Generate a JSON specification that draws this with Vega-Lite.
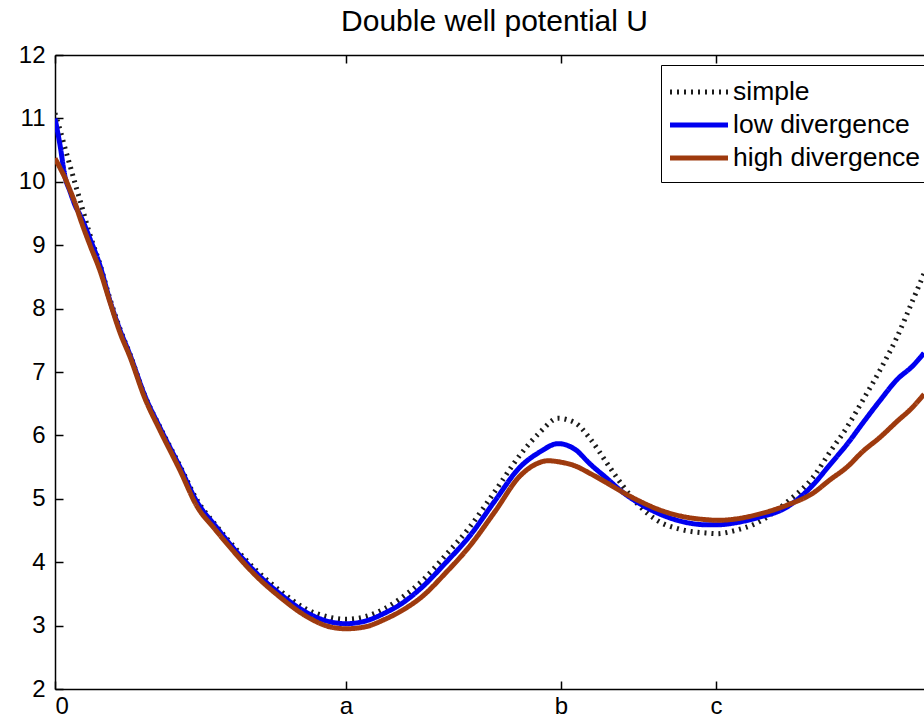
{
  "$schema": "https://vega.github.io/schema/vega-lite/v6.json",
  "autosize": {"type": "none"},
  "width": 869,
  "height": 634,
  "padding": {"left": 55, "top": 55, "right": 0, "bottom": 32},
  "background": "white",
  "title": {"text": "Double well potential U", "fontSize": 30, "fontWeight": "normal", "font": "Liberation Sans", "color": "black", "offset": -5, "dy": 13, "dx": 5, "anchor": "middle", "baseline": "alphabetic"},
  "config": {
    "view": {"stroke": null},
    "font": "Liberation Sans",
    "axis": {"domainColor": "black", "domainWidth": 1.5, "tickColor": "black", "tickWidth": 1.5, "labelColor": "black", "labelFontSize": 24, "labelFont": "Liberation Sans", "grid": false, "title": null}
  },
  "data": {"values": [
    {"x": 0, "series": "simple", "u": 11.08}, {"x": 0.0057, "series": "simple", "u": 10.82}, {"x": 0.0114, "series": "simple", "u": 10.53}, {"x": 0.017, "series": "simple", "u": 10.26}, {"x": 0.0227, "series": "simple", "u": 9.98}, {"x": 0.0284, "series": "simple", "u": 9.71}, {"x": 0.0398, "series": "simple", "u": 9.16}, {"x": 0.0511, "series": "simple", "u": 8.7}, {"x": 0.0625, "series": "simple", "u": 8.15}, {"x": 0.0739, "series": "simple", "u": 7.68}, {"x": 0.0852, "series": "simple", "u": 7.28}, {"x": 0.1023, "series": "simple", "u": 6.62}, {"x": 0.1193, "series": "simple", "u": 6.13}, {"x": 0.142, "series": "simple", "u": 5.52}, {"x": 0.1614, "series": "simple", "u": 4.98}, {"x": 0.1818, "series": "simple", "u": 4.6}, {"x": 0.2011, "series": "simple", "u": 4.28}, {"x": 0.2295, "series": "simple", "u": 3.86}, {"x": 0.2557, "series": "simple", "u": 3.55}, {"x": 0.2841, "series": "simple", "u": 3.27}, {"x": 0.3125, "series": "simple", "u": 3.13}, {"x": 0.3307, "series": "simple", "u": 3.1}, {"x": 0.3523, "series": "simple", "u": 3.14}, {"x": 0.375, "series": "simple", "u": 3.27}, {"x": 0.392, "series": "simple", "u": 3.42}, {"x": 0.4182, "series": "simple", "u": 3.72}, {"x": 0.4432, "series": "simple", "u": 4.1}, {"x": 0.4716, "series": "simple", "u": 4.56}, {"x": 0.5, "series": "simple", "u": 5.12}, {"x": 0.5284, "series": "simple", "u": 5.69}, {"x": 0.5511, "series": "simple", "u": 6.05}, {"x": 0.5716, "series": "simple", "u": 6.27}, {"x": 0.5909, "series": "simple", "u": 6.2}, {"x": 0.608, "series": "simple", "u": 5.95}, {"x": 0.6273, "series": "simple", "u": 5.56}, {"x": 0.6455, "series": "simple", "u": 5.2}, {"x": 0.6648, "series": "simple", "u": 4.88}, {"x": 0.6841, "series": "simple", "u": 4.66}, {"x": 0.7102, "series": "simple", "u": 4.52}, {"x": 0.7409, "series": "simple", "u": 4.46}, {"x": 0.7523, "series": "simple", "u": 4.45}, {"x": 0.7727, "series": "simple", "u": 4.5}, {"x": 0.7977, "series": "simple", "u": 4.62}, {"x": 0.8318, "series": "simple", "u": 4.95}, {"x": 0.8614, "series": "simple", "u": 5.34}, {"x": 0.8807, "series": "simple", "u": 5.74}, {"x": 0.9, "series": "simple", "u": 6.13}, {"x": 0.9182, "series": "simple", "u": 6.56}, {"x": 0.9375, "series": "simple", "u": 7.03}, {"x": 0.9568, "series": "simple", "u": 7.55}, {"x": 0.975, "series": "simple", "u": 8.14}, {"x": 0.9875, "series": "simple", "u": 8.55},

    {"x": 0, "series": "low divergence", "u": 11.0}, {"x": 0.0057, "series": "low divergence", "u": 10.58}, {"x": 0.0114, "series": "low divergence", "u": 10.08}, {"x": 0.017, "series": "low divergence", "u": 9.85}, {"x": 0.0227, "series": "low divergence", "u": 9.63}, {"x": 0.0284, "series": "low divergence", "u": 9.48}, {"x": 0.0398, "series": "low divergence", "u": 9.1}, {"x": 0.0511, "series": "low divergence", "u": 8.68}, {"x": 0.0625, "series": "low divergence", "u": 8.12}, {"x": 0.0739, "series": "low divergence", "u": 7.66}, {"x": 0.0852, "series": "low divergence", "u": 7.27}, {"x": 0.1023, "series": "low divergence", "u": 6.62}, {"x": 0.1193, "series": "low divergence", "u": 6.12}, {"x": 0.142, "series": "low divergence", "u": 5.5}, {"x": 0.1614, "series": "low divergence", "u": 4.95}, {"x": 0.1818, "series": "low divergence", "u": 4.58}, {"x": 0.2011, "series": "low divergence", "u": 4.25}, {"x": 0.2295, "series": "low divergence", "u": 3.82}, {"x": 0.2557, "series": "low divergence", "u": 3.5}, {"x": 0.2841, "series": "low divergence", "u": 3.22}, {"x": 0.3125, "series": "low divergence", "u": 3.06}, {"x": 0.3307, "series": "low divergence", "u": 3.03}, {"x": 0.3523, "series": "low divergence", "u": 3.07}, {"x": 0.375, "series": "low divergence", "u": 3.2}, {"x": 0.392, "series": "low divergence", "u": 3.33}, {"x": 0.4182, "series": "low divergence", "u": 3.62}, {"x": 0.4432, "series": "low divergence", "u": 3.98}, {"x": 0.4716, "series": "low divergence", "u": 4.42}, {"x": 0.5, "series": "low divergence", "u": 4.97}, {"x": 0.5284, "series": "low divergence", "u": 5.5}, {"x": 0.5511, "series": "low divergence", "u": 5.74}, {"x": 0.5716, "series": "low divergence", "u": 5.87}, {"x": 0.5909, "series": "low divergence", "u": 5.78}, {"x": 0.608, "series": "low divergence", "u": 5.55}, {"x": 0.6273, "series": "low divergence", "u": 5.32}, {"x": 0.6455, "series": "low divergence", "u": 5.1}, {"x": 0.6648, "series": "low divergence", "u": 4.92}, {"x": 0.6841, "series": "low divergence", "u": 4.78}, {"x": 0.7102, "series": "low divergence", "u": 4.65}, {"x": 0.7409, "series": "low divergence", "u": 4.59}, {"x": 0.7523, "series": "low divergence", "u": 4.59}, {"x": 0.7727, "series": "low divergence", "u": 4.62}, {"x": 0.7977, "series": "low divergence", "u": 4.7}, {"x": 0.8318, "series": "low divergence", "u": 4.87}, {"x": 0.8614, "series": "low divergence", "u": 5.22}, {"x": 0.8807, "series": "low divergence", "u": 5.54}, {"x": 0.9, "series": "low divergence", "u": 5.86}, {"x": 0.9182, "series": "low divergence", "u": 6.2}, {"x": 0.9375, "series": "low divergence", "u": 6.55}, {"x": 0.9568, "series": "low divergence", "u": 6.88}, {"x": 0.975, "series": "low divergence", "u": 7.1}, {"x": 0.9875, "series": "low divergence", "u": 7.3},

    {"x": 0, "series": "high divergence", "u": 10.37}, {"x": 0.0057, "series": "high divergence", "u": 10.22}, {"x": 0.0114, "series": "high divergence", "u": 10.06}, {"x": 0.017, "series": "high divergence", "u": 9.87}, {"x": 0.0227, "series": "high divergence", "u": 9.67}, {"x": 0.0284, "series": "high divergence", "u": 9.43}, {"x": 0.0398, "series": "high divergence", "u": 9.0}, {"x": 0.0511, "series": "high divergence", "u": 8.6}, {"x": 0.0625, "series": "high divergence", "u": 8.1}, {"x": 0.0739, "series": "high divergence", "u": 7.62}, {"x": 0.0852, "series": "high divergence", "u": 7.24}, {"x": 0.1023, "series": "high divergence", "u": 6.58}, {"x": 0.1193, "series": "high divergence", "u": 6.08}, {"x": 0.142, "series": "high divergence", "u": 5.45}, {"x": 0.1614, "series": "high divergence", "u": 4.88}, {"x": 0.1818, "series": "high divergence", "u": 4.52}, {"x": 0.2011, "series": "high divergence", "u": 4.2}, {"x": 0.2295, "series": "high divergence", "u": 3.77}, {"x": 0.2557, "series": "high divergence", "u": 3.45}, {"x": 0.2841, "series": "high divergence", "u": 3.16}, {"x": 0.3125, "series": "high divergence", "u": 2.98}, {"x": 0.3307, "series": "high divergence", "u": 2.95}, {"x": 0.3523, "series": "high divergence", "u": 2.98}, {"x": 0.375, "series": "high divergence", "u": 3.1}, {"x": 0.392, "series": "high divergence", "u": 3.22}, {"x": 0.4182, "series": "high divergence", "u": 3.47}, {"x": 0.4432, "series": "high divergence", "u": 3.82}, {"x": 0.4716, "series": "high divergence", "u": 4.26}, {"x": 0.5, "series": "high divergence", "u": 4.8}, {"x": 0.5284, "series": "high divergence", "u": 5.36}, {"x": 0.5455, "series": "high divergence", "u": 5.54}, {"x": 0.5602, "series": "high divergence", "u": 5.6}, {"x": 0.5739, "series": "high divergence", "u": 5.58}, {"x": 0.5909, "series": "high divergence", "u": 5.52}, {"x": 0.608, "series": "high divergence", "u": 5.4}, {"x": 0.6273, "series": "high divergence", "u": 5.25}, {"x": 0.6455, "series": "high divergence", "u": 5.1}, {"x": 0.6648, "series": "high divergence", "u": 4.96}, {"x": 0.6841, "series": "high divergence", "u": 4.84}, {"x": 0.7102, "series": "high divergence", "u": 4.73}, {"x": 0.7409, "series": "high divergence", "u": 4.67}, {"x": 0.7523, "series": "high divergence", "u": 4.66}, {"x": 0.7727, "series": "high divergence", "u": 4.68}, {"x": 0.7977, "series": "high divergence", "u": 4.75}, {"x": 0.8318, "series": "high divergence", "u": 4.9}, {"x": 0.8614, "series": "high divergence", "u": 5.09}, {"x": 0.8807, "series": "high divergence", "u": 5.3}, {"x": 0.9, "series": "high divergence", "u": 5.5}, {"x": 0.9182, "series": "high divergence", "u": 5.75}, {"x": 0.9375, "series": "high divergence", "u": 5.97}, {"x": 0.9568, "series": "high divergence", "u": 6.22}, {"x": 0.975, "series": "high divergence", "u": 6.45}, {"x": 0.9875, "series": "high divergence", "u": 6.65}
  ]},
  "layer": [
    {
      "mark": {"type": "line", "interpolate": "monotone", "strokeCap": "butt", "clip": true},
      "encoding": {
        "x": {"field": "x", "type": "quantitative", "scale": {"domain": [0, 0.9875], "nice": false, "zero": false},
          "axis": {"orient": "bottom", "values": [0, 0.3307, 0.575, 0.7511], "tickSize": -8, "labelPadding": 13,
            "labelExpr": "datum.value < 0.1 ? '0' : datum.value < 0.45 ? 'a' : datum.value < 0.65 ? 'b' : 'c'"}},
        "y": {"field": "u", "type": "quantitative", "scale": {"domain": [2, 12], "nice": false, "zero": false},
          "axis": {"orient": "left", "values": [2, 3, 4, 5, 6, 7, 8, 9, 10, 11, 12], "tickSize": -8, "labelPadding": 18}},
        "color": {"field": "series", "type": "nominal", "sort": ["simple", "low divergence", "high divergence"],
          "scale": {"domain": ["simple", "low divergence", "high divergence"], "range": ["#1a1a1a", "#0000f0", "#9e3a0e"]},
          "legend": {"orient": "none", "legendX": 606, "legendY": 10, "title": null, "strokeColor": "black", "fillColor": "white",
            "padding": 10, "labelFontSize": 26.5, "labelFont": "Liberation Sans", "labelColor": "black", "labelLimit": 500,
            "symbolType": "M-2,0L2,0", "symbolSize": 841, "symbolStrokeWidth": 5, "symbolOffset": 11, "labelOffset": 17, "rowPadding": 2}},
        "strokeDash": {"field": "series", "type": "nominal", "sort": ["simple", "low divergence", "high divergence"],
          "scale": {"domain": ["simple", "low divergence", "high divergence"], "range": [[2, 5], [1, 0], [1, 0]]}},
        "strokeWidth": {"value": 5}
      }
    },
    {
      "mark": {"type": "line", "opacity": 0},
      "encoding": {
        "x": {"field": "x", "type": "quantitative",
          "axis": {"orient": "top", "values": [0, 0.3307, 0.575, 0.7511], "tickSize": -8, "labels": false}},
        "y": {"field": "u", "type": "quantitative", "axis": null},
        "detail": {"field": "series"}
      }
    }
  ],
  "resolve": {"axis": {"x": "independent", "y": "independent"}}
}
